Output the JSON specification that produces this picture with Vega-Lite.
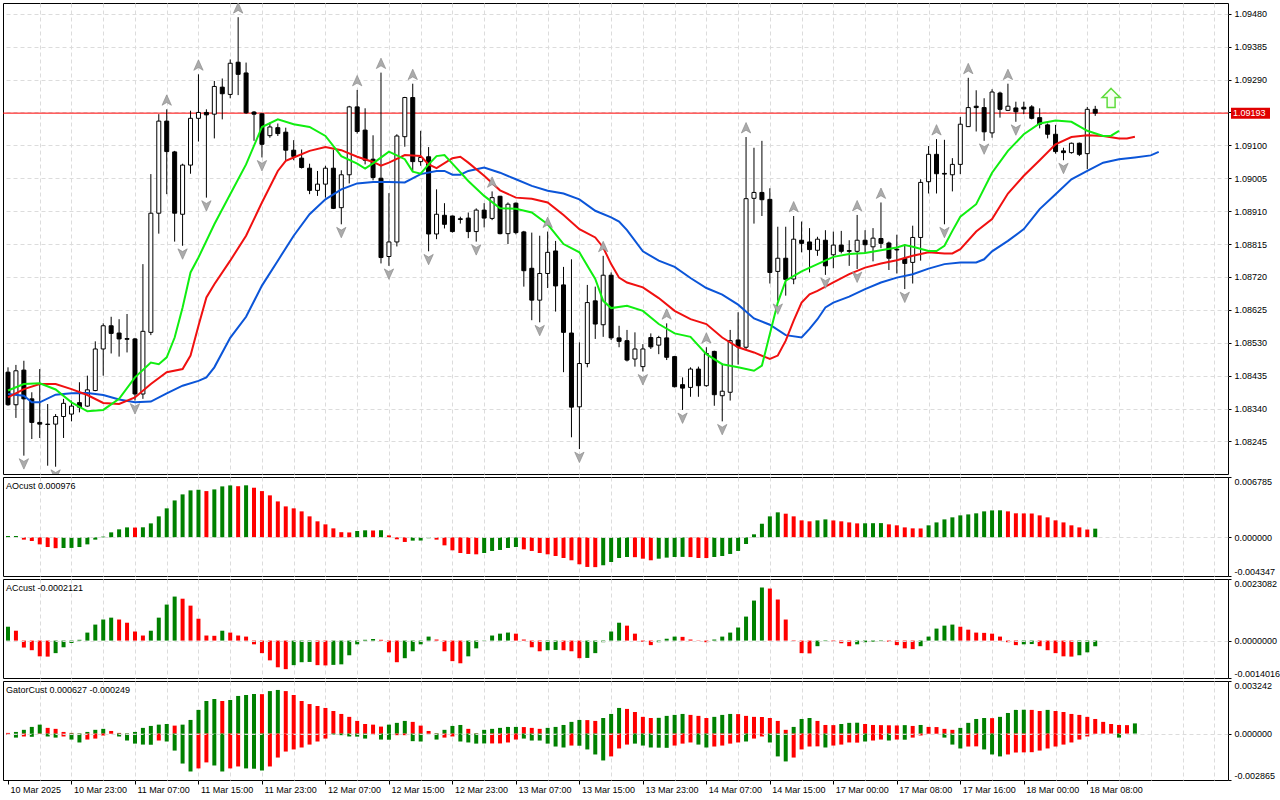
{
  "$schema": "https://vega.github.io/schema/vega-lite/v6.json",
  "padding": {"left": 2, "top": 2, "right": 0, "bottom": 0},
  "background": "white",
  "spacing": 3,
  "bounds": "flush",
  "config": {
    "view": {"stroke": "black", "strokeWidth": 1},
    "axis": {"labelFont": "Liberation Sans", "labelFontSize": 9, "labelColor": "black", "tickColor": "black", "tickSize": 3, "gridColor": "#dcdcdc", "gridDash": [4, 3], "gridWidth": 1, "domain": false, "labelPadding": 3, "labelOverlap": false},
    "text": {"font": "Liberation Sans", "fontSize": 9, "color": "black"},
    "locale": {"number": {"decimal": ".", "thousands": ",", "grouping": [3], "currency": ["$", ""], "minus": "-"}}
  },
  "datasets": {
    "cd": [
      {"i":0,"o":1.08445,"h":1.08459,"l":1.08348,"c":1.08351},
      {"i":1,"o":1.08351,"h":1.08466,"l":1.08313,"c":1.08449},
      {"i":2,"o":1.08451,"h":1.08478,"l":1.08204,"c":1.08368},
      {"i":3,"o":1.08368,"h":1.08387,"l":1.08252,"c":1.08300},
      {"i":4,"o":1.08300,"h":1.08454,"l":1.08255,"c":1.08295},
      {"i":5,"o":1.08295,"h":1.08353,"l":1.08175,"c":1.08294},
      {"i":6,"o":1.08295,"h":1.08324,"l":1.08172,"c":1.08317},
      {"i":7,"o":1.08317,"h":1.08368,"l":1.08255,"c":1.08355},
      {"i":8,"o":1.08324,"h":1.08363,"l":1.08303,"c":1.08347},
      {"i":9,"o":1.08357,"h":1.08416,"l":1.08329,"c":1.08344},
      {"i":10,"o":1.08347,"h":1.08435,"l":1.08345,"c":1.08394},
      {"i":11,"o":1.08392,"h":1.08534,"l":1.08390,"c":1.08512},
      {"i":12,"o":1.08512,"h":1.08586,"l":1.08435,"c":1.08579},
      {"i":13,"o":1.08579,"h":1.08605,"l":1.08499,"c":1.08557},
      {"i":14,"o":1.08558,"h":1.08598,"l":1.08490,"c":1.08541},
      {"i":15,"o":1.08542,"h":1.08613,"l":1.08502,"c":1.08540},
      {"i":16,"o":1.08541,"h":1.08544,"l":1.08363,"c":1.08382},
      {"i":17,"o":1.08382,"h":1.08757,"l":1.08368,"c":1.08563},
      {"i":18,"o":1.08560,"h":1.09017,"l":1.08552,"c":1.08904},
      {"i":19,"o":1.08904,"h":1.09190,"l":1.08845,"c":1.09170},
      {"i":20,"o":1.09170,"h":1.09204,"l":1.08959,"c":1.09082},
      {"i":21,"o":1.09081,"h":1.09084,"l":1.08822,"c":1.08904},
      {"i":22,"o":1.08901,"h":1.09047,"l":1.08810,"c":1.09043},
      {"i":23,"o":1.09043,"h":1.09200,"l":1.09018,"c":1.09178},
      {"i":24,"o":1.09178,"h":1.09305,"l":1.09111,"c":1.09195},
      {"i":25,"o":1.09195,"h":1.09204,"l":1.08949,"c":1.09188},
      {"i":26,"o":1.09190,"h":1.09286,"l":1.09120,"c":1.09270},
      {"i":27,"o":1.09268,"h":1.09293,"l":1.09175,"c":1.09249},
      {"i":28,"o":1.09247,"h":1.09348,"l":1.09236,"c":1.09337},
      {"i":29,"o":1.09340,"h":1.09470,"l":1.09245,"c":1.09305},
      {"i":30,"o":1.09309,"h":1.09339,"l":1.09191,"c":1.09194},
      {"i":31,"o":1.09196,"h":1.09199,"l":1.09113,"c":1.09190},
      {"i":32,"o":1.09191,"h":1.09193,"l":1.09065,"c":1.09103},
      {"i":33,"o":1.09128,"h":1.09166,"l":1.09122,"c":1.09153},
      {"i":34,"o":1.09151,"h":1.09163,"l":1.09127,"c":1.09134},
      {"i":35,"o":1.09138,"h":1.09151,"l":1.09057,"c":1.09086},
      {"i":36,"o":1.09086,"h":1.09115,"l":1.09057,"c":1.09068},
      {"i":37,"o":1.09063,"h":1.09088,"l":1.09033,"c":1.09036},
      {"i":38,"o":1.09034,"h":1.09047,"l":1.08959,"c":1.08970},
      {"i":39,"o":1.08970,"h":1.09026,"l":1.08954,"c":1.08988},
      {"i":40,"o":1.08988,"h":1.09041,"l":1.08949,"c":1.09034},
      {"i":41,"o":1.09034,"h":1.09087,"l":1.08916,"c":1.08918},
      {"i":42,"o":1.08920,"h":1.09028,"l":1.08872,"c":1.09015},
      {"i":43,"o":1.09015,"h":1.09214,"l":1.08990,"c":1.09211},
      {"i":44,"o":1.09211,"h":1.09260,"l":1.09134,"c":1.09140},
      {"i":45,"o":1.09144,"h":1.09207,"l":1.09045,"c":1.09057},
      {"i":46,"o":1.09060,"h":1.09129,"l":1.08999,"c":1.09007},
      {"i":47,"o":1.09005,"h":1.09310,"l":1.08759,"c":1.08776},
      {"i":48,"o":1.08779,"h":1.08962,"l":1.08752,"c":1.08821},
      {"i":49,"o":1.08821,"h":1.09132,"l":1.08808,"c":1.09127},
      {"i":50,"o":1.09125,"h":1.09240,"l":1.09096,"c":1.09238},
      {"i":51,"o":1.09238,"h":1.09278,"l":1.09026,"c":1.09053},
      {"i":52,"o":1.09053,"h":1.09142,"l":1.09041,"c":1.09065},
      {"i":53,"o":1.09067,"h":1.09095,"l":1.08794,"c":1.08844},
      {"i":54,"o":1.08844,"h":1.08973,"l":1.08829,"c":1.08901},
      {"i":55,"o":1.08898,"h":1.08933,"l":1.08860,"c":1.08872},
      {"i":56,"o":1.08896,"h":1.08897,"l":1.08848,"c":1.08851},
      {"i":57,"o":1.08888,"h":1.08894,"l":1.08874,"c":1.08886},
      {"i":58,"o":1.08890,"h":1.08906,"l":1.08832,"c":1.08851},
      {"i":59,"o":1.08851,"h":1.08918,"l":1.08822,"c":1.08913},
      {"i":60,"o":1.08913,"h":1.08933,"l":1.08863,"c":1.08890},
      {"i":61,"o":1.08889,"h":1.08967,"l":1.08884,"c":1.08949},
      {"i":62,"o":1.08953,"h":1.08954,"l":1.08843,"c":1.08845},
      {"i":63,"o":1.08845,"h":1.08935,"l":1.08815,"c":1.08930},
      {"i":64,"o":1.08933,"h":1.08935,"l":1.08843,"c":1.08848},
      {"i":65,"o":1.08850,"h":1.08853,"l":1.08692,"c":1.08738},
      {"i":66,"o":1.08745,"h":1.08848,"l":1.08595,"c":1.08653},
      {"i":67,"o":1.08653,"h":1.08839,"l":1.08589,"c":1.08730},
      {"i":68,"o":1.08730,"h":1.08851,"l":1.08688,"c":1.08791},
      {"i":69,"o":1.08795,"h":1.08824,"l":1.08620,"c":1.08694},
      {"i":70,"o":1.08697,"h":1.08749,"l":1.08445,"c":1.08560},
      {"i":71,"o":1.08558,"h":1.08771,"l":1.08257,"c":1.08344},
      {"i":72,"o":1.08345,"h":1.08531,"l":1.08223,"c":1.08470},
      {"i":73,"o":1.08470,"h":1.08697,"l":1.08459,"c":1.08646},
      {"i":74,"o":1.08651,"h":1.08692,"l":1.08541,"c":1.08584},
      {"i":75,"o":1.08582,"h":1.08781,"l":1.08547,"c":1.08725},
      {"i":76,"o":1.08725,"h":1.08733,"l":1.08538,"c":1.08544},
      {"i":77,"o":1.08544,"h":1.08579,"l":1.08517,"c":1.08534},
      {"i":78,"o":1.08536,"h":1.08567,"l":1.08476,"c":1.08480},
      {"i":79,"o":1.08483,"h":1.08560,"l":1.08461,"c":1.08512},
      {"i":80,"o":1.08461,"h":1.08526,"l":1.08447,"c":1.08512},
      {"i":81,"o":1.08545,"h":1.08557,"l":1.08512,"c":1.08518},
      {"i":82,"o":1.08523,"h":1.08550,"l":1.08497,"c":1.08545},
      {"i":83,"o":1.08544,"h":1.08586,"l":1.08480,"c":1.08488},
      {"i":84,"o":1.08490,"h":1.08492,"l":1.08401,"c":1.08403},
      {"i":85,"o":1.08409,"h":1.08430,"l":1.08336,"c":1.08399},
      {"i":86,"o":1.08401,"h":1.08459,"l":1.08374,"c":1.08454},
      {"i":87,"o":1.08454,"h":1.08461,"l":1.08374,"c":1.08406},
      {"i":88,"o":1.08406,"h":1.08517,"l":1.08403,"c":1.08499},
      {"i":89,"o":1.08505,"h":1.08507,"l":1.08348,"c":1.08380},
      {"i":90,"o":1.08377,"h":1.08470,"l":1.08303,"c":1.08390},
      {"i":91,"o":1.08387,"h":1.08567,"l":1.08363,"c":1.08536},
      {"i":92,"o":1.08538,"h":1.08618,"l":1.08467,"c":1.08518},
      {"i":93,"o":1.08517,"h":1.09124,"l":1.08512,"c":1.08946},
      {"i":94,"o":1.08947,"h":1.09093,"l":1.08874,"c":1.08964},
      {"i":95,"o":1.08964,"h":1.09113,"l":1.08896,"c":1.08943},
      {"i":96,"o":1.08944,"h":1.08976,"l":1.08701,"c":1.08733},
      {"i":97,"o":1.08736,"h":1.08865,"l":1.08651,"c":1.08774},
      {"i":98,"o":1.08774,"h":1.08865,"l":1.08666,"c":1.08713},
      {"i":99,"o":1.08714,"h":1.08896,"l":1.08699,"c":1.08829},
      {"i":100,"o":1.08826,"h":1.08880,"l":1.08791,"c":1.08817},
      {"i":101,"o":1.08821,"h":1.08861,"l":1.08733,"c":1.08799},
      {"i":102,"o":1.08797,"h":1.08836,"l":1.08781,"c":1.08829},
      {"i":103,"o":1.08826,"h":1.08855,"l":1.08726,"c":1.08752},
      {"i":104,"o":1.08784,"h":1.08851,"l":1.08745,"c":1.08812},
      {"i":105,"o":1.08812,"h":1.08853,"l":1.08788,"c":1.08794},
      {"i":106,"o":1.08796,"h":1.08826,"l":1.08752,"c":1.08794},
      {"i":107,"o":1.08794,"h":1.08899,"l":1.08743,"c":1.08826},
      {"i":108,"o":1.08826,"h":1.08855,"l":1.08788,"c":1.08813},
      {"i":109,"o":1.08807,"h":1.08861,"l":1.08765,"c":1.08832},
      {"i":110,"o":1.08831,"h":1.08935,"l":1.08803,"c":1.08817},
      {"i":111,"o":1.08818,"h":1.08822,"l":1.08740,"c":1.08774},
      {"i":112,"o":1.08800,"h":1.08842,"l":1.08730,"c":1.08798},
      {"i":113,"o":1.08774,"h":1.08815,"l":1.08685,"c":1.08759},
      {"i":114,"o":1.08762,"h":1.08868,"l":1.08701,"c":1.08834},
      {"i":115,"o":1.08834,"h":1.09002,"l":1.08767,"c":1.08993},
      {"i":116,"o":1.08995,"h":1.09098,"l":1.08961,"c":1.09074},
      {"i":117,"o":1.09074,"h":1.09118,"l":1.08961,"c":1.09018},
      {"i":118,"o":1.09019,"h":1.09116,"l":1.08872,"c":1.09017},
      {"i":119,"o":1.09015,"h":1.09063,"l":1.08967,"c":1.09045},
      {"i":120,"o":1.09045,"h":1.09182,"l":1.09017,"c":1.09161},
      {"i":121,"o":1.09154,"h":1.09295,"l":1.09153,"c":1.09209},
      {"i":122,"o":1.09213,"h":1.09259,"l":1.09140,"c":1.09209},
      {"i":123,"o":1.09209,"h":1.09236,"l":1.09113,"c":1.09139},
      {"i":124,"o":1.09136,"h":1.09262,"l":1.09122,"c":1.09254},
      {"i":125,"o":1.09251,"h":1.09255,"l":1.09180,"c":1.09204},
      {"i":126,"o":1.09201,"h":1.09278,"l":1.09199,"c":1.09213},
      {"i":127,"o":1.09208,"h":1.09226,"l":1.09168,"c":1.09197},
      {"i":128,"o":1.09210,"h":1.09226,"l":1.09190,"c":1.09205},
      {"i":129,"o":1.09211,"h":1.09216,"l":1.09175,"c":1.09178},
      {"i":130,"o":1.09180,"h":1.09207,"l":1.09149,"c":1.09161},
      {"i":131,"o":1.09159,"h":1.09163,"l":1.09120,"c":1.09132},
      {"i":132,"o":1.09132,"h":1.09159,"l":1.09076,"c":1.09082},
      {"i":133,"o":1.09084,"h":1.09093,"l":1.09057,"c":1.09079},
      {"i":134,"o":1.09079,"h":1.09108,"l":1.09076,"c":1.09106},
      {"i":135,"o":1.09106,"h":1.09108,"l":1.09069,"c":1.09074},
      {"i":136,"o":1.09076,"h":1.09211,"l":1.09031,"c":1.09204},
      {"i":137,"o":1.09204,"h":1.09214,"l":1.09185,"c":1.09193}
    ],
    "al": [
      {"i":0,"v":1.08382,"s":"jaw"},{"i":2,"v":1.08377,"s":"jaw"},{"i":3,"v":1.08358,"s":"jaw"},{"i":4,"v":1.08358,"s":"jaw"},{"i":6,"v":1.08380,"s":"jaw"},{"i":8,"v":1.08384,"s":"jaw"},{"i":10,"v":1.08385,"s":"jaw"},{"i":12,"v":1.08379,"s":"jaw"},{"i":14,"v":1.08366,"s":"jaw"},{"i":16,"v":1.08358,"s":"jaw"},{"i":18,"v":1.08360,"s":"jaw"},{"i":20,"v":1.08384,"s":"jaw"},{"i":22,"v":1.08406,"s":"jaw"},{"i":24,"v":1.08420,"s":"jaw"},{"i":25,"v":1.08430,"s":"jaw"},{"i":26,"v":1.08459,"s":"jaw"},{"i":28,"v":1.08544,"s":"jaw"},{"i":30,"v":1.08605,"s":"jaw"},{"i":32,"v":1.08695,"s":"jaw"},{"i":34,"v":1.08767,"s":"jaw"},{"i":36,"v":1.08839,"s":"jaw"},{"i":38,"v":1.08901,"s":"jaw"},{"i":40,"v":1.08944,"s":"jaw"},{"i":42,"v":1.08973,"s":"jaw"},{"i":44,"v":1.08990,"s":"jaw"},{"i":46,"v":1.08994,"s":"jaw"},{"i":48,"v":1.08994,"s":"jaw"},{"i":50,"v":1.08993,"s":"jaw"},{"i":52,"v":1.09017,"s":"jaw"},{"i":54,"v":1.09026,"s":"jaw"},{"i":55,"v":1.09026,"s":"jaw"},{"i":56,"v":1.09015,"s":"jaw"},{"i":57,"v":1.09015,"s":"jaw"},{"i":58,"v":1.09026,"s":"jaw"},{"i":60,"v":1.09036,"s":"jaw"},{"i":62,"v":1.09021,"s":"jaw"},{"i":64,"v":1.09002,"s":"jaw"},{"i":66,"v":1.08983,"s":"jaw"},{"i":68,"v":1.08969,"s":"jaw"},{"i":70,"v":1.08961,"s":"jaw"},{"i":72,"v":1.08944,"s":"jaw"},{"i":74,"v":1.08911,"s":"jaw"},{"i":76,"v":1.08892,"s":"jaw"},{"i":77,"v":1.08880,"s":"jaw"},{"i":78,"v":1.08855,"s":"jaw"},{"i":80,"v":1.08794,"s":"jaw"},{"i":82,"v":1.08767,"s":"jaw"},{"i":84,"v":1.08749,"s":"jaw"},{"i":86,"v":1.08717,"s":"jaw"},{"i":88,"v":1.08688,"s":"jaw"},{"i":90,"v":1.08669,"s":"jaw"},{"i":92,"v":1.08640,"s":"jaw"},{"i":94,"v":1.08600,"s":"jaw"},{"i":96,"v":1.08582,"s":"jaw"},{"i":98,"v":1.08552,"s":"jaw"},{"i":100,"v":1.08545,"s":"jaw"},{"i":101,"v":1.08570,"s":"jaw"},{"i":102,"v":1.08598,"s":"jaw"},{"i":103,"v":1.08632,"s":"jaw"},{"i":104,"v":1.08646,"s":"jaw"},{"i":106,"v":1.08663,"s":"jaw"},{"i":108,"v":1.08685,"s":"jaw"},{"i":110,"v":1.08704,"s":"jaw"},{"i":112,"v":1.08718,"s":"jaw"},{"i":114,"v":1.08728,"s":"jaw"},{"i":116,"v":1.08744,"s":"jaw"},{"i":118,"v":1.08757,"s":"jaw"},{"i":120,"v":1.08762,"s":"jaw"},{"i":122,"v":1.08762,"s":"jaw"},{"i":123,"v":1.08771,"s":"jaw"},{"i":124,"v":1.08794,"s":"jaw"},{"i":126,"v":1.08824,"s":"jaw"},{"i":128,"v":1.08858,"s":"jaw"},{"i":130,"v":1.08916,"s":"jaw"},{"i":132,"v":1.08959,"s":"jaw"},{"i":134,"v":1.09002,"s":"jaw"},{"i":136,"v":1.09026,"s":"jaw"},{"i":138,"v":1.09050,"s":"jaw"},{"i":140,"v":1.09060,"s":"jaw"},{"i":142,"v":1.09065,"s":"jaw"},{"i":144,"v":1.09071,"s":"jaw"},{"i":145,"v":1.09081,"s":"jaw"},
      {"i":0,"v":1.08372,"s":"teeth"},{"i":2,"v":1.08396,"s":"teeth"},{"i":4,"v":1.08411,"s":"teeth"},{"i":6,"v":1.08411,"s":"teeth"},{"i":8,"v":1.08396,"s":"teeth"},{"i":10,"v":1.08379,"s":"teeth"},{"i":12,"v":1.08356,"s":"teeth"},{"i":14,"v":1.08353,"s":"teeth"},{"i":16,"v":1.08372,"s":"teeth"},{"i":18,"v":1.08411,"s":"teeth"},{"i":20,"v":1.08445,"s":"teeth"},{"i":22,"v":1.08454,"s":"teeth"},{"i":23,"v":1.08493,"s":"teeth"},{"i":24,"v":1.08579,"s":"teeth"},{"i":25,"v":1.08661,"s":"teeth"},{"i":26,"v":1.08699,"s":"teeth"},{"i":28,"v":1.08767,"s":"teeth"},{"i":30,"v":1.08839,"s":"teeth"},{"i":32,"v":1.08935,"s":"teeth"},{"i":34,"v":1.09026,"s":"teeth"},{"i":35,"v":1.09055,"s":"teeth"},{"i":36,"v":1.09065,"s":"teeth"},{"i":38,"v":1.09084,"s":"teeth"},{"i":40,"v":1.09095,"s":"teeth"},{"i":42,"v":1.09086,"s":"teeth"},{"i":44,"v":1.09067,"s":"teeth"},{"i":46,"v":1.09052,"s":"teeth"},{"i":47,"v":1.09041,"s":"teeth"},{"i":48,"v":1.09050,"s":"teeth"},{"i":50,"v":1.09072,"s":"teeth"},{"i":52,"v":1.09069,"s":"teeth"},{"i":53,"v":1.09045,"s":"teeth"},{"i":54,"v":1.09034,"s":"teeth"},{"i":56,"v":1.09063,"s":"teeth"},{"i":57,"v":1.09067,"s":"teeth"},{"i":58,"v":1.09050,"s":"teeth"},{"i":60,"v":1.09012,"s":"teeth"},{"i":62,"v":1.08970,"s":"teeth"},{"i":64,"v":1.08949,"s":"teeth"},{"i":66,"v":1.08946,"s":"teeth"},{"i":68,"v":1.08935,"s":"teeth"},{"i":70,"v":1.08899,"s":"teeth"},{"i":72,"v":1.08858,"s":"teeth"},{"i":74,"v":1.08834,"s":"teeth"},{"i":75,"v":1.08805,"s":"teeth"},{"i":76,"v":1.08757,"s":"teeth"},{"i":77,"v":1.08718,"s":"teeth"},{"i":78,"v":1.08704,"s":"teeth"},{"i":80,"v":1.08690,"s":"teeth"},{"i":82,"v":1.08659,"s":"teeth"},{"i":84,"v":1.08622,"s":"teeth"},{"i":86,"v":1.08598,"s":"teeth"},{"i":88,"v":1.08584,"s":"teeth"},{"i":90,"v":1.08545,"s":"teeth"},{"i":92,"v":1.08517,"s":"teeth"},{"i":94,"v":1.08502,"s":"teeth"},{"i":96,"v":1.08483,"s":"teeth"},{"i":97,"v":1.08493,"s":"teeth"},{"i":98,"v":1.08536,"s":"teeth"},{"i":99,"v":1.08594,"s":"teeth"},{"i":100,"v":1.08646,"s":"teeth"},{"i":101,"v":1.08670,"s":"teeth"},{"i":102,"v":1.08680,"s":"teeth"},{"i":104,"v":1.08704,"s":"teeth"},{"i":106,"v":1.08728,"s":"teeth"},{"i":108,"v":1.08747,"s":"teeth"},{"i":110,"v":1.08759,"s":"teeth"},{"i":112,"v":1.08768,"s":"teeth"},{"i":114,"v":1.08781,"s":"teeth"},{"i":116,"v":1.08791,"s":"teeth"},{"i":118,"v":1.08788,"s":"teeth"},{"i":119,"v":1.08788,"s":"teeth"},{"i":120,"v":1.08800,"s":"teeth"},{"i":122,"v":1.08851,"s":"teeth"},{"i":124,"v":1.08887,"s":"teeth"},{"i":126,"v":1.08961,"s":"teeth"},{"i":128,"v":1.09012,"s":"teeth"},{"i":130,"v":1.09057,"s":"teeth"},{"i":132,"v":1.09103,"s":"teeth"},{"i":134,"v":1.09124,"s":"teeth"},{"i":136,"v":1.09129,"s":"teeth"},{"i":138,"v":1.09127,"s":"teeth"},{"i":140,"v":1.09120,"s":"teeth"},{"i":141,"v":1.09120,"s":"teeth"},{"i":142,"v":1.09125,"s":"teeth"},
      {"i":0,"v":1.08392,"s":"lips"},{"i":2,"v":1.08411,"s":"lips"},{"i":4,"v":1.08413,"s":"lips"},{"i":6,"v":1.08395,"s":"lips"},{"i":8,"v":1.08358,"s":"lips"},{"i":10,"v":1.08332,"s":"lips"},{"i":12,"v":1.08336,"s":"lips"},{"i":14,"v":1.08368,"s":"lips"},{"i":16,"v":1.08430,"s":"lips"},{"i":18,"v":1.08473,"s":"lips"},{"i":19,"v":1.08468,"s":"lips"},{"i":20,"v":1.08488,"s":"lips"},{"i":21,"v":1.08545,"s":"lips"},{"i":22,"v":1.08632,"s":"lips"},{"i":23,"v":1.08733,"s":"lips"},{"i":24,"v":1.08776,"s":"lips"},{"i":26,"v":1.08872,"s":"lips"},{"i":28,"v":1.08959,"s":"lips"},{"i":30,"v":1.09045,"s":"lips"},{"i":32,"v":1.09153,"s":"lips"},{"i":34,"v":1.09175,"s":"lips"},{"i":36,"v":1.09161,"s":"lips"},{"i":38,"v":1.09153,"s":"lips"},{"i":40,"v":1.09127,"s":"lips"},{"i":42,"v":1.09069,"s":"lips"},{"i":44,"v":1.09047,"s":"lips"},{"i":45,"v":1.09033,"s":"lips"},{"i":46,"v":1.09048,"s":"lips"},{"i":48,"v":1.09082,"s":"lips"},{"i":50,"v":1.09060,"s":"lips"},{"i":51,"v":1.09024,"s":"lips"},{"i":52,"v":1.09018,"s":"lips"},{"i":53,"v":1.09045,"s":"lips"},{"i":54,"v":1.09069,"s":"lips"},{"i":55,"v":1.09072,"s":"lips"},{"i":56,"v":1.09047,"s":"lips"},{"i":58,"v":1.08997,"s":"lips"},{"i":60,"v":1.08954,"s":"lips"},{"i":62,"v":1.08918,"s":"lips"},{"i":64,"v":1.08917,"s":"lips"},{"i":66,"v":1.08906,"s":"lips"},{"i":68,"v":1.08872,"s":"lips"},{"i":70,"v":1.08815,"s":"lips"},{"i":72,"v":1.08791,"s":"lips"},{"i":74,"v":1.08714,"s":"lips"},{"i":75,"v":1.08651,"s":"lips"},{"i":76,"v":1.08630,"s":"lips"},{"i":78,"v":1.08637,"s":"lips"},{"i":80,"v":1.08622,"s":"lips"},{"i":82,"v":1.08584,"s":"lips"},{"i":84,"v":1.08557,"s":"lips"},{"i":86,"v":1.08547,"s":"lips"},{"i":88,"v":1.08497,"s":"lips"},{"i":90,"v":1.08468,"s":"lips"},{"i":92,"v":1.08459,"s":"lips"},{"i":94,"v":1.08449,"s":"lips"},{"i":95,"v":1.08464,"s":"lips"},{"i":96,"v":1.08555,"s":"lips"},{"i":97,"v":1.08646,"s":"lips"},{"i":98,"v":1.08709,"s":"lips"},{"i":100,"v":1.08736,"s":"lips"},{"i":102,"v":1.08757,"s":"lips"},{"i":104,"v":1.08778,"s":"lips"},{"i":106,"v":1.08786,"s":"lips"},{"i":108,"v":1.08789,"s":"lips"},{"i":110,"v":1.08797,"s":"lips"},{"i":112,"v":1.08805,"s":"lips"},{"i":113,"v":1.08812,"s":"lips"},{"i":114,"v":1.08807,"s":"lips"},{"i":116,"v":1.08795,"s":"lips"},{"i":117,"v":1.08795,"s":"lips"},{"i":118,"v":1.08810,"s":"lips"},{"i":119,"v":1.08853,"s":"lips"},{"i":120,"v":1.08894,"s":"lips"},{"i":122,"v":1.08930,"s":"lips"},{"i":124,"v":1.09021,"s":"lips"},{"i":126,"v":1.09084,"s":"lips"},{"i":128,"v":1.09132,"s":"lips"},{"i":130,"v":1.09163,"s":"lips"},{"i":132,"v":1.09172,"s":"lips"},{"i":134,"v":1.09168,"s":"lips"},{"i":136,"v":1.09142,"s":"lips"},{"i":138,"v":1.09127,"s":"lips"},{"i":139,"v":1.09128,"s":"lips"},{"i":140,"v":1.09142,"s":"lips"}
    ],
    "fr": [
      {"i":20,"p":1.09204,"d":"u"},{"i":24,"p":1.09305,"d":"u"},{"i":29,"p":1.09470,"d":"u"},{"i":44,"p":1.09260,"d":"u"},{"i":47,"p":1.09310,"d":"u"},{"i":51,"p":1.09278,"d":"u"},{"i":61,"p":1.08967,"d":"u"},{"i":68,"p":1.08851,"d":"u"},{"i":75,"p":1.08781,"d":"u"},{"i":83,"p":1.08586,"d":"u"},{"i":88,"p":1.08517,"d":"u"},{"i":93,"p":1.09124,"d":"u"},{"i":99,"p":1.08896,"d":"u"},{"i":107,"p":1.08899,"d":"u"},{"i":110,"p":1.08935,"d":"u"},{"i":117,"p":1.09118,"d":"u"},{"i":121,"p":1.09295,"d":"u"},{"i":126,"p":1.09278,"d":"u"},
      {"i":2,"p":1.08204,"d":"d"},{"i":6,"p":1.08172,"d":"d"},{"i":16,"p":1.08363,"d":"d"},{"i":22,"p":1.08810,"d":"d"},{"i":25,"p":1.08949,"d":"d"},{"i":32,"p":1.09065,"d":"d"},{"i":42,"p":1.08872,"d":"d"},{"i":48,"p":1.08752,"d":"d"},{"i":53,"p":1.08794,"d":"d"},{"i":59,"p":1.08822,"d":"d"},{"i":67,"p":1.08589,"d":"d"},{"i":72,"p":1.08223,"d":"d"},{"i":80,"p":1.08447,"d":"d"},{"i":85,"p":1.08336,"d":"d"},{"i":90,"p":1.08303,"d":"d"},{"i":97,"p":1.08651,"d":"d"},{"i":103,"p":1.08726,"d":"d"},{"i":107,"p":1.08743,"d":"d"},{"i":113,"p":1.08685,"d":"d"},{"i":118,"p":1.08872,"d":"d"},{"i":123,"p":1.09113,"d":"d"},{"i":127,"p":1.09168,"d":"d"},{"i":133,"p":1.09057,"d":"d"}
    ],
    "ao": [
      {"i":0,"v":0.00015,"c":"g"},{"i":1,"v":0.00015,"c":"g"},{"i":2,"v":-0.00026,"c":"r"},{"i":3,"v":-0.00041,"c":"r"},{"i":4,"v":-0.00079,"c":"r"},{"i":5,"v":-0.00109,"c":"r"},{"i":6,"v":-0.00122,"c":"r"},{"i":7,"v":-0.00120,"c":"g"},{"i":8,"v":-0.00119,"c":"g"},{"i":9,"v":-0.00109,"c":"g"},{"i":10,"v":-0.00079,"c":"g"},{"i":11,"v":-0.00026,"c":"g"},{"i":12,"v":0.00008,"c":"g"},{"i":13,"v":0.00056,"c":"g"},{"i":14,"v":0.00090,"c":"g"},{"i":15,"v":0.00112,"c":"g"},{"i":16,"v":0.00110,"c":"r"},{"i":17,"v":0.00113,"c":"g"},{"i":18,"v":0.00157,"c":"g"},{"i":19,"v":0.00236,"c":"g"},{"i":20,"v":0.00326,"c":"g"},{"i":21,"v":0.00415,"c":"g"},{"i":22,"v":0.00483,"c":"g"},{"i":23,"v":0.00528,"c":"g"},{"i":24,"v":0.00535,"c":"g"},{"i":25,"v":0.00520,"c":"r"},{"i":26,"v":0.00539,"c":"g"},{"i":27,"v":0.00573,"c":"g"},{"i":28,"v":0.00584,"c":"g"},{"i":29,"v":0.00575,"c":"r"},{"i":30,"v":0.00585,"c":"g"},{"i":31,"v":0.00558,"c":"r"},{"i":32,"v":0.00520,"c":"r"},{"i":33,"v":0.00472,"c":"r"},{"i":34,"v":0.00404,"c":"r"},{"i":35,"v":0.00348,"c":"r"},{"i":36,"v":0.00326,"c":"r"},{"i":37,"v":0.00292,"c":"r"},{"i":38,"v":0.00236,"c":"r"},{"i":39,"v":0.00180,"c":"r"},{"i":40,"v":0.00146,"c":"r"},{"i":41,"v":0.00101,"c":"r"},{"i":42,"v":0.00058,"c":"r"},{"i":43,"v":0.00055,"c":"r"},{"i":44,"v":0.00071,"c":"g"},{"i":45,"v":0.00079,"c":"g"},{"i":46,"v":0.00077,"c":"r"},{"i":47,"v":0.00080,"c":"g"},{"i":48,"v":0.00022,"c":"r"},{"i":49,"v":-0.00022,"c":"r"},{"i":50,"v":-0.00052,"c":"r"},{"i":51,"v":-0.00037,"c":"g"},{"i":52,"v":-0.00036,"c":"g"},{"i":53,"v":-0.00010,"c":"g"},{"i":54,"v":-0.00026,"c":"r"},{"i":55,"v":-0.00090,"c":"r"},{"i":56,"v":-0.00146,"c":"r"},{"i":57,"v":-0.00176,"c":"r"},{"i":58,"v":-0.00187,"c":"r"},{"i":59,"v":-0.00191,"c":"r"},{"i":60,"v":-0.00176,"c":"g"},{"i":61,"v":-0.00153,"c":"g"},{"i":62,"v":-0.00142,"c":"g"},{"i":63,"v":-0.00120,"c":"g"},{"i":64,"v":-0.00109,"c":"g"},{"i":65,"v":-0.00135,"c":"r"},{"i":66,"v":-0.00153,"c":"r"},{"i":67,"v":-0.00176,"c":"r"},{"i":68,"v":-0.00191,"c":"r"},{"i":69,"v":-0.00210,"c":"r"},{"i":70,"v":-0.00232,"c":"r"},{"i":71,"v":-0.00258,"c":"r"},{"i":72,"v":-0.00303,"c":"r"},{"i":73,"v":-0.00333,"c":"r"},{"i":74,"v":-0.00335,"c":"r"},{"i":75,"v":-0.00314,"c":"g"},{"i":76,"v":-0.00277,"c":"g"},{"i":77,"v":-0.00232,"c":"g"},{"i":78,"v":-0.00221,"c":"g"},{"i":79,"v":-0.00223,"c":"r"},{"i":80,"v":-0.00240,"c":"r"},{"i":81,"v":-0.00258,"c":"r"},{"i":82,"v":-0.00240,"c":"g"},{"i":83,"v":-0.00228,"c":"g"},{"i":84,"v":-0.00221,"c":"g"},{"i":85,"v":-0.00220,"c":"g"},{"i":86,"v":-0.00222,"c":"r"},{"i":87,"v":-0.00232,"c":"r"},{"i":88,"v":-0.00233,"c":"r"},{"i":89,"v":-0.00221,"c":"g"},{"i":90,"v":-0.00210,"c":"g"},{"i":91,"v":-0.00187,"c":"g"},{"i":92,"v":-0.00153,"c":"g"},{"i":93,"v":-0.00075,"c":"g"},{"i":94,"v":0.00034,"c":"g"},{"i":95,"v":0.00153,"c":"g"},{"i":96,"v":0.00236,"c":"g"},{"i":97,"v":0.00281,"c":"g"},{"i":98,"v":0.00266,"c":"r"},{"i":99,"v":0.00236,"c":"r"},{"i":100,"v":0.00191,"c":"r"},{"i":101,"v":0.00180,"c":"r"},{"i":102,"v":0.00191,"c":"g"},{"i":103,"v":0.00202,"c":"g"},{"i":104,"v":0.00190,"c":"r"},{"i":105,"v":0.00180,"c":"r"},{"i":106,"v":0.00168,"c":"r"},{"i":107,"v":0.00157,"c":"r"},{"i":108,"v":0.00158,"c":"g"},{"i":109,"v":0.00159,"c":"g"},{"i":110,"v":0.00160,"c":"g"},{"i":111,"v":0.00146,"c":"r"},{"i":112,"v":0.00135,"c":"r"},{"i":113,"v":0.00112,"c":"r"},{"i":114,"v":0.00101,"c":"r"},{"i":115,"v":0.00100,"c":"r"},{"i":116,"v":0.00135,"c":"g"},{"i":117,"v":0.00168,"c":"g"},{"i":118,"v":0.00202,"c":"g"},{"i":119,"v":0.00225,"c":"g"},{"i":120,"v":0.00247,"c":"g"},{"i":121,"v":0.00258,"c":"g"},{"i":122,"v":0.00270,"c":"g"},{"i":123,"v":0.00292,"c":"g"},{"i":124,"v":0.00303,"c":"g"},{"i":125,"v":0.00304,"c":"g"},{"i":126,"v":0.00292,"c":"r"},{"i":127,"v":0.00270,"c":"r"},{"i":128,"v":0.00269,"c":"r"},{"i":129,"v":0.00268,"c":"r"},{"i":130,"v":0.00247,"c":"r"},{"i":131,"v":0.00225,"c":"r"},{"i":132,"v":0.00191,"c":"r"},{"i":133,"v":0.00168,"c":"r"},{"i":134,"v":0.00135,"c":"r"},{"i":135,"v":0.00112,"c":"r"},{"i":136,"v":0.00088,"c":"r"},{"i":137,"v":0.000976,"c":"g"}
    ],
    "ac": [
      {"i":0,"v":0.00052,"c":"g"},{"i":1,"v":0.00037,"c":"r"},{"i":2,"v":-0.00026,"c":"r"},{"i":3,"v":-0.00036,"c":"r"},{"i":4,"v":-0.00059,"c":"r"},{"i":5,"v":-0.00060,"c":"r"},{"i":6,"v":-0.00047,"c":"g"},{"i":7,"v":-0.00025,"c":"g"},{"i":8,"v":-0.00009,"c":"g"},{"i":9,"v":0.00003,"c":"g"},{"i":10,"v":0.00030,"c":"g"},{"i":11,"v":0.00060,"c":"g"},{"i":12,"v":0.00079,"c":"g"},{"i":13,"v":0.00086,"c":"g"},{"i":14,"v":0.00079,"c":"r"},{"i":15,"v":0.00067,"c":"r"},{"i":16,"v":0.00034,"c":"r"},{"i":17,"v":0.00019,"c":"r"},{"i":18,"v":0.00037,"c":"g"},{"i":19,"v":0.00086,"c":"g"},{"i":20,"v":0.00135,"c":"g"},{"i":21,"v":0.00165,"c":"g"},{"i":22,"v":0.00157,"c":"r"},{"i":23,"v":0.00131,"c":"r"},{"i":24,"v":0.00082,"c":"r"},{"i":25,"v":0.00019,"c":"r"},{"i":26,"v":0.00018,"c":"r"},{"i":27,"v":0.00037,"c":"g"},{"i":28,"v":0.00030,"c":"r"},{"i":29,"v":0.00019,"c":"r"},{"i":30,"v":0.00015,"c":"r"},{"i":31,"v":-0.00014,"c":"r"},{"i":32,"v":-0.00047,"c":"r"},{"i":33,"v":-0.00074,"c":"r"},{"i":34,"v":-0.00100,"c":"r"},{"i":35,"v":-0.00107,"c":"r"},{"i":36,"v":-0.00092,"c":"g"},{"i":37,"v":-0.00081,"c":"g"},{"i":38,"v":-0.00080,"c":"g"},{"i":39,"v":-0.00092,"c":"r"},{"i":40,"v":-0.00093,"c":"r"},{"i":41,"v":-0.00091,"c":"g"},{"i":42,"v":-0.00089,"c":"g"},{"i":43,"v":-0.00055,"c":"g"},{"i":44,"v":-0.00014,"c":"g"},{"i":45,"v":0.00003,"c":"g"},{"i":46,"v":0.00006,"c":"g"},{"i":47,"v":0.00003,"c":"r"},{"i":48,"v":-0.00044,"c":"r"},{"i":49,"v":-0.00081,"c":"r"},{"i":50,"v":-0.00066,"c":"g"},{"i":51,"v":-0.00040,"c":"g"},{"i":52,"v":-0.00014,"c":"g"},{"i":53,"v":0.00015,"c":"g"},{"i":54,"v":0.00004,"c":"r"},{"i":55,"v":-0.00040,"c":"r"},{"i":56,"v":-0.00077,"c":"r"},{"i":57,"v":-0.00085,"c":"r"},{"i":58,"v":-0.00059,"c":"g"},{"i":59,"v":-0.00029,"c":"g"},{"i":60,"v":-0.00001,"c":"g"},{"i":61,"v":0.00019,"c":"g"},{"i":62,"v":0.00026,"c":"g"},{"i":63,"v":0.00030,"c":"g"},{"i":64,"v":0.00026,"c":"r"},{"i":65,"v":0.00004,"c":"r"},{"i":66,"v":-0.00025,"c":"r"},{"i":67,"v":-0.00040,"c":"r"},{"i":68,"v":-0.00036,"c":"g"},{"i":69,"v":-0.00035,"c":"g"},{"i":70,"v":-0.00036,"c":"r"},{"i":71,"v":-0.00040,"c":"r"},{"i":72,"v":-0.00066,"c":"r"},{"i":73,"v":-0.00065,"c":"g"},{"i":74,"v":-0.00047,"c":"g"},{"i":75,"v":-0.00006,"c":"g"},{"i":76,"v":0.00034,"c":"g"},{"i":77,"v":0.00067,"c":"g"},{"i":78,"v":0.00056,"c":"r"},{"i":79,"v":0.00026,"c":"r"},{"i":80,"v":-0.00004,"c":"r"},{"i":81,"v":-0.00017,"c":"r"},{"i":82,"v":-0.00006,"c":"g"},{"i":83,"v":0.00007,"c":"g"},{"i":84,"v":0.00015,"c":"g"},{"i":85,"v":0.00014,"c":"r"},{"i":86,"v":0.00004,"c":"r"},{"i":87,"v":-0.00001,"c":"r"},{"i":88,"v":-0.00006,"c":"r"},{"i":89,"v":0.00004,"c":"g"},{"i":90,"v":0.00015,"c":"g"},{"i":91,"v":0.00030,"c":"g"},{"i":92,"v":0.00049,"c":"g"},{"i":93,"v":0.00090,"c":"g"},{"i":94,"v":0.00150,"c":"g"},{"i":95,"v":0.00199,"c":"g"},{"i":96,"v":0.00195,"c":"r"},{"i":97,"v":0.00154,"c":"r"},{"i":98,"v":0.00079,"c":"r"},{"i":99,"v":-0.00002,"c":"r"},{"i":100,"v":-0.00047,"c":"r"},{"i":101,"v":-0.00048,"c":"r"},{"i":102,"v":-0.00021,"c":"g"},{"i":103,"v":-0.00002,"c":"g"},{"i":104,"v":-0.00003,"c":"r"},{"i":105,"v":-0.00010,"c":"r"},{"i":106,"v":-0.00021,"c":"r"},{"i":107,"v":-0.00014,"c":"g"},{"i":108,"v":-0.00006,"c":"g"},{"i":109,"v":-0.00004,"c":"g"},{"i":110,"v":-0.00002,"c":"g"},{"i":111,"v":-0.00004,"c":"r"},{"i":112,"v":-0.00017,"c":"r"},{"i":113,"v":-0.00029,"c":"r"},{"i":114,"v":-0.00032,"c":"r"},{"i":115,"v":-0.00021,"c":"g"},{"i":116,"v":0.00015,"c":"g"},{"i":117,"v":0.00045,"c":"g"},{"i":118,"v":0.00056,"c":"g"},{"i":119,"v":0.00060,"c":"g"},{"i":120,"v":0.00052,"c":"r"},{"i":121,"v":0.00041,"c":"r"},{"i":122,"v":0.00030,"c":"r"},{"i":123,"v":0.00029,"c":"r"},{"i":124,"v":0.00026,"c":"r"},{"i":125,"v":0.00015,"c":"r"},{"i":126,"v":-0.00006,"c":"r"},{"i":127,"v":-0.00017,"c":"r"},{"i":128,"v":-0.00014,"c":"g"},{"i":129,"v":-0.00013,"c":"g"},{"i":130,"v":-0.00021,"c":"r"},{"i":131,"v":-0.00036,"c":"r"},{"i":132,"v":-0.00047,"c":"r"},{"i":133,"v":-0.00059,"c":"r"},{"i":134,"v":-0.00060,"c":"r"},{"i":135,"v":-0.00055,"c":"g"},{"i":136,"v":-0.00044,"c":"g"},{"i":137,"v":-0.0002121,"c":"g"}
    ],
    "gt": [
      {"i":0,"u":0.00004,"uc":"r","d":-0.00008,"dc":"r"},{"i":1,"u":0.00010,"uc":"g","d":-0.00025,"dc":"g"},{"i":2,"u":0.00023,"uc":"g","d":-0.00018,"dc":"r"},{"i":3,"u":0.00041,"uc":"g","d":-0.00020,"dc":"g"},{"i":4,"u":0.00055,"uc":"g","d":-0.00002,"dc":"r"},{"i":5,"u":0.00035,"uc":"r","d":-0.00018,"dc":"g"},{"i":6,"u":0.00029,"uc":"r","d":-0.00025,"dc":"g"},{"i":7,"u":0.00010,"uc":"r","d":-0.00018,"dc":"r"},{"i":8,"u":0.00004,"uc":"r","d":-0.00037,"dc":"g"},{"i":9,"u":0.00001,"uc":"r","d":-0.00055,"dc":"g"},
      {"i":10,"u":0.00010,"uc":"g","d":-0.00037,"dc":"r"},{"i":11,"u":0.00023,"uc":"g","d":-0.00031,"dc":"r"},{"i":12,"u":0.00029,"uc":"g","d":-0.00012,"dc":"r"},{"i":13,"u":0.00016,"uc":"r","d":-0.00002,"dc":"r"},{"i":14,"u":0.00004,"uc":"r","d":-0.00018,"dc":"g"},{"i":15,"u":0.00001,"uc":"r","d":-0.00043,"dc":"g"},{"i":16,"u":0.00010,"uc":"g","d":-0.00062,"dc":"g"},{"i":17,"u":0.00035,"uc":"g","d":-0.00068,"dc":"g"},{"i":18,"u":0.00047,"uc":"g","d":-0.00069,"dc":"g"},{"i":19,"u":0.00055,"uc":"g","d":-0.00043,"dc":"r"},
      {"i":20,"u":0.00059,"uc":"g","d":-0.00049,"dc":"g"},{"i":21,"u":0.00049,"uc":"r","d":-0.00105,"dc":"g"},{"i":22,"u":0.00055,"uc":"g","d":-0.00185,"dc":"g"},{"i":23,"u":0.00084,"uc":"g","d":-0.00234,"dc":"g"},{"i":24,"u":0.00146,"uc":"g","d":-0.00215,"dc":"r"},{"i":25,"u":0.00201,"uc":"g","d":-0.00178,"dc":"r"},{"i":26,"u":0.00213,"uc":"g","d":-0.00197,"dc":"g"},{"i":27,"u":0.00201,"uc":"r","d":-0.00234,"dc":"g"},{"i":28,"u":0.00207,"uc":"g","d":-0.00215,"dc":"r"},{"i":29,"u":0.00232,"uc":"g","d":-0.00203,"dc":"r"},
      {"i":30,"u":0.00238,"uc":"g","d":-0.00215,"dc":"g"},{"i":31,"u":0.00244,"uc":"g","d":-0.00217,"dc":"g"},{"i":32,"u":0.00243,"uc":"r","d":-0.00228,"dc":"g"},{"i":33,"u":0.00262,"uc":"g","d":-0.00203,"dc":"r"},{"i":34,"u":0.00269,"uc":"g","d":-0.00148,"dc":"r"},{"i":35,"u":0.00262,"uc":"r","d":-0.00111,"dc":"r"},{"i":36,"u":0.00238,"uc":"r","d":-0.00098,"dc":"r"},{"i":37,"u":0.00201,"uc":"r","d":-0.00086,"dc":"r"},{"i":38,"u":0.00182,"uc":"r","d":-0.00068,"dc":"r"},{"i":39,"u":0.00170,"uc":"r","d":-0.00049,"dc":"r"},
      {"i":40,"u":0.00158,"uc":"r","d":-0.00031,"dc":"r"},{"i":41,"u":0.00139,"uc":"r","d":-0.00006,"dc":"g"},{"i":42,"u":0.00121,"uc":"r","d":-0.00010,"dc":"g"},{"i":43,"u":0.00103,"uc":"r","d":-0.00018,"dc":"g"},{"i":44,"u":0.00078,"uc":"r","d":-0.00019,"dc":"g"},{"i":45,"u":0.00059,"uc":"r","d":-0.00031,"dc":"g"},{"i":46,"u":0.00055,"uc":"r","d":-0.00006,"dc":"r"},{"i":47,"u":0.00043,"uc":"r","d":-0.00037,"dc":"g"},{"i":48,"u":0.00055,"uc":"g","d":-0.00038,"dc":"g"},{"i":49,"u":0.00066,"uc":"g","d":-0.00010,"dc":"r"},
      {"i":50,"u":0.00078,"uc":"g","d":-0.00010,"dc":"r"},{"i":51,"u":0.00072,"uc":"r","d":-0.00047,"dc":"g"},{"i":52,"u":0.00049,"uc":"r","d":-0.00049,"dc":"g"},{"i":53,"u":0.00016,"uc":"r","d":-0.00002,"dc":"r"},{"i":54,"u":0.00002,"uc":"r","d":-0.00037,"dc":"g"},{"i":55,"u":0.00023,"uc":"g","d":-0.00025,"dc":"r"},{"i":56,"u":0.00047,"uc":"g","d":-0.00018,"dc":"r"},{"i":57,"u":0.00053,"uc":"g","d":-0.00049,"dc":"g"},{"i":58,"u":0.00029,"uc":"r","d":-0.00055,"dc":"g"},{"i":59,"u":0.00002,"uc":"r","d":-0.00062,"dc":"g"},
      {"i":60,"u":0.00023,"uc":"g","d":-0.00061,"dc":"g"},{"i":61,"u":0.00029,"uc":"g","d":-0.00061,"dc":"r"},{"i":62,"u":0.00035,"uc":"g","d":-0.00061,"dc":"r"},{"i":63,"u":0.00041,"uc":"g","d":-0.00055,"dc":"r"},{"i":64,"u":0.00041,"uc":"g","d":-0.00037,"dc":"r"},{"i":65,"u":0.00040,"uc":"r","d":-0.00031,"dc":"g"},{"i":66,"u":0.00035,"uc":"r","d":-0.00043,"dc":"g"},{"i":67,"u":0.00029,"uc":"r","d":-0.00043,"dc":"g"},{"i":68,"u":0.00035,"uc":"g","d":-0.00062,"dc":"g"},{"i":69,"u":0.00041,"uc":"g","d":-0.00080,"dc":"g"},
      {"i":70,"u":0.00053,"uc":"g","d":-0.00086,"dc":"g"},{"i":71,"u":0.00072,"uc":"g","d":-0.00074,"dc":"r"},{"i":72,"u":0.00084,"uc":"g","d":-0.00075,"dc":"g"},{"i":73,"u":0.00083,"uc":"r","d":-0.00098,"dc":"g"},{"i":74,"u":0.00078,"uc":"r","d":-0.00129,"dc":"g"},{"i":75,"u":0.00096,"uc":"g","d":-0.00166,"dc":"g"},{"i":76,"u":0.00121,"uc":"g","d":-0.00141,"dc":"r"},{"i":77,"u":0.00158,"uc":"g","d":-0.00092,"dc":"r"},{"i":78,"u":0.00152,"uc":"r","d":-0.00068,"dc":"r"},{"i":79,"u":0.00133,"uc":"r","d":-0.00062,"dc":"g"},
      {"i":80,"u":0.00103,"uc":"r","d":-0.00074,"dc":"g"},{"i":81,"u":0.00096,"uc":"r","d":-0.00086,"dc":"g"},{"i":82,"u":0.00097,"uc":"g","d":-0.00087,"dc":"g"},{"i":83,"u":0.00109,"uc":"g","d":-0.00088,"dc":"g"},{"i":84,"u":0.00115,"uc":"g","d":-0.00074,"dc":"r"},{"i":85,"u":0.00121,"uc":"g","d":-0.00062,"dc":"r"},{"i":86,"u":0.00115,"uc":"r","d":-0.00055,"dc":"r"},{"i":87,"u":0.00109,"uc":"r","d":-0.00068,"dc":"g"},{"i":88,"u":0.00096,"uc":"r","d":-0.00086,"dc":"g"},{"i":89,"u":0.00103,"uc":"g","d":-0.00080,"dc":"r"},
      {"i":90,"u":0.00115,"uc":"g","d":-0.00074,"dc":"r"},{"i":91,"u":0.00121,"uc":"g","d":-0.00062,"dc":"r"},{"i":92,"u":0.00120,"uc":"r","d":-0.00055,"dc":"r"},{"i":93,"u":0.00109,"uc":"r","d":-0.00049,"dc":"g"},{"i":94,"u":0.00103,"uc":"r","d":-0.00031,"dc":"r"},{"i":95,"u":0.00102,"uc":"r","d":-0.00018,"dc":"r"},{"i":96,"u":0.00096,"uc":"r","d":-0.00055,"dc":"g"},{"i":97,"u":0.00078,"uc":"r","d":-0.00141,"dc":"g"},{"i":98,"u":0.00023,"uc":"r","d":-0.00172,"dc":"g"},{"i":99,"u":0.00041,"uc":"g","d":-0.00148,"dc":"r"},
      {"i":100,"u":0.00090,"uc":"g","d":-0.00098,"dc":"r"},{"i":101,"u":0.00096,"uc":"g","d":-0.00080,"dc":"r"},{"i":102,"u":0.00078,"uc":"r","d":-0.00079,"dc":"r"},{"i":103,"u":0.00053,"uc":"r","d":-0.00086,"dc":"g"},{"i":104,"u":0.00052,"uc":"r","d":-0.00074,"dc":"r"},{"i":105,"u":0.00059,"uc":"g","d":-0.00068,"dc":"r"},{"i":106,"u":0.00066,"uc":"g","d":-0.00055,"dc":"r"},{"i":107,"u":0.00067,"uc":"g","d":-0.00056,"dc":"r"},{"i":108,"u":0.00059,"uc":"r","d":-0.00049,"dc":"g"},{"i":109,"u":0.00053,"uc":"r","d":-0.00043,"dc":"r"},
      {"i":110,"u":0.00052,"uc":"r","d":-0.00037,"dc":"r"},{"i":111,"u":0.00051,"uc":"r","d":-0.00043,"dc":"g"},{"i":112,"u":0.00050,"uc":"r","d":-0.00037,"dc":"r"},{"i":113,"u":0.00052,"uc":"g","d":-0.00038,"dc":"g"},{"i":114,"u":0.00047,"uc":"r","d":-0.00025,"dc":"r"},{"i":115,"u":0.00053,"uc":"g","d":-0.00012,"dc":"r"},{"i":116,"u":0.00041,"uc":"r","d":-0.00002,"dc":"r"},{"i":117,"u":0.00040,"uc":"r","d":-0.00002,"dc":"r"},{"i":118,"u":0.00029,"uc":"r","d":-0.00025,"dc":"g"},{"i":119,"u":0.00023,"uc":"r","d":-0.00068,"dc":"g"},
      {"i":120,"u":0.00035,"uc":"g","d":-0.00092,"dc":"g"},{"i":121,"u":0.00066,"uc":"g","d":-0.00080,"dc":"r"},{"i":122,"u":0.00090,"uc":"g","d":-0.00079,"dc":"r"},{"i":123,"u":0.00096,"uc":"g","d":-0.00098,"dc":"g"},{"i":124,"u":0.00095,"uc":"r","d":-0.00129,"dc":"g"},{"i":125,"u":0.00103,"uc":"g","d":-0.00141,"dc":"g"},{"i":126,"u":0.00127,"uc":"g","d":-0.00129,"dc":"r"},{"i":127,"u":0.00146,"uc":"g","d":-0.00117,"dc":"r"},{"i":128,"u":0.00147,"uc":"g","d":-0.00116,"dc":"r"},{"i":129,"u":0.00146,"uc":"r","d":-0.00115,"dc":"r"},
      {"i":130,"u":0.00139,"uc":"r","d":-0.00105,"dc":"r"},{"i":131,"u":0.00146,"uc":"g","d":-0.00092,"dc":"r"},{"i":132,"u":0.00139,"uc":"r","d":-0.00080,"dc":"r"},{"i":133,"u":0.00133,"uc":"r","d":-0.00068,"dc":"r"},{"i":134,"u":0.00121,"uc":"r","d":-0.00055,"dc":"r"},{"i":135,"u":0.00115,"uc":"r","d":-0.00037,"dc":"r"},{"i":136,"u":0.00103,"uc":"r","d":-0.00018,"dc":"r"},{"i":137,"u":0.00090,"uc":"r","d":-0.00002,"dc":"r"},{"i":138,"u":0.00072,"uc":"r"},{"i":139,"u":0.00059,"uc":"r"},
      {"i":140,"u":0.00053,"uc":"r","d":-0.000249,"dc":"g"},{"i":141,"u":0.00052,"uc":"r"},{"i":142,"u":0.000627,"uc":"g"}
    ],
    "sig": [{"i":139,"p":1.09237}]
  },
  "vconcat": [
    {
      "width": 1225,
      "height": 471,
      "layer": [
        {
          "data": {"values": [{"p": 1.09193}]},
          "mark": {"type": "rule", "color": "#ff0000", "strokeWidth": 1},
          "encoding": {
            "y": {"field": "p", "type": "quantitative", "title": null,
              "scale": {"domain": [1.08151, 1.09511], "nice": false, "zero": false},
              "axis": {"orient": "right", "values": [1.08245, 1.08340, 1.08435, 1.08530, 1.08625, 1.08720, 1.08815, 1.08910, 1.09005, 1.09100, 1.09195, 1.09290, 1.09385, 1.09480], "tickCount": 30, "format": ".5f", "grid": true, "labelOverlap": false, "labelBound": false, "title": null}}
          }
        },
        {
          "data": {"name": "cd"},
          "mark": {"type": "rule", "color": "black", "strokeWidth": 1, "clip": true},
          "encoding": {
            "x": {"field": "i", "type": "quantitative", "title": null,
              "scale": {"domain": [0, 153.1], "nice": false, "zero": false},
              "axis": {"orient": "bottom", "values": [0,4,8,12,16,20,24,28,32,36,40,44,48,52,56,60,64,68,72,76,80,84,88,92,96,100,104,108,112,116,120,124,128,132,136,140,144,148,152], "tickCount": 60, "labels": false, "ticks": false, "domain": false, "grid": true,
                "gridOpacity": {"condition": {"test": "datum.value == 0", "value": 0}, "value": 1}, "title": null}},
            "y": {"field": "l", "type": "quantitative", "title": null, "axis": {"orient": "right", "values": [1.08245, 1.08340, 1.08435, 1.08530, 1.08625, 1.08720, 1.08815, 1.08910, 1.09005, 1.09100, 1.09195, 1.09290, 1.09385, 1.09480], "tickCount": 30, "format": ".5f", "grid": true, "labelOverlap": false, "labelBound": false, "title": null}},
            "y2": {"field": "h"}
          }
        },
        {
          "data": {"name": "cd"},
          "mark": {"type": "bar", "size": 4, "stroke": "black", "strokeWidth": 1, "clip": true},
          "encoding": {
            "x": {"field": "i", "type": "quantitative", "title": null},
            "y": {"field": "o", "type": "quantitative", "title": null},
            "y2": {"field": "c"},
            "fill": {"condition": {"test": "datum.c > datum.o", "value": "white"}, "value": "black"}
          }
        },
        {
          "data": {"name": "al"},
          "mark": {"type": "line", "strokeWidth": 2, "clip": true},
          "encoding": {
            "x": {"field": "i", "type": "quantitative", "title": null},
            "y": {"field": "v", "type": "quantitative", "title": null},
            "color": {"field": "s", "type": "nominal", "scale": {"domain": ["jaw", "teeth", "lips", "g", "r"], "range": ["#0b55d8", "#f01010", "#10ee10", "#008000", "#ff0000"]}, "legend": null}
          }
        },
        {
          "data": {"name": "fr"},
          "transform": [{"filter": "datum.d == 'u'"}],
          "mark": {"type": "point", "shape": "M0,-1L0.85,0.9L0,0.4L-0.85,0.9Z", "size": 120, "filled": true, "fill": "#ababab", "stroke": "#8c8c8c", "strokeWidth": 0.7, "opacity": 1, "yOffset": -9, "clip": true},
          "encoding": {
            "x": {"field": "i", "type": "quantitative", "title": null},
            "y": {"field": "p", "type": "quantitative", "title": null}
          }
        },
        {
          "data": {"name": "fr"},
          "transform": [{"filter": "datum.d == 'd'"}],
          "mark": {"type": "point", "shape": "M0,1L0.85,-0.9L0,-0.4L-0.85,-0.9Z", "size": 120, "filled": true, "fill": "#ababab", "stroke": "#8c8c8c", "strokeWidth": 0.7, "opacity": 1, "yOffset": 8, "clip": true},
          "encoding": {
            "x": {"field": "i", "type": "quantitative", "title": null},
            "y": {"field": "p", "type": "quantitative", "title": null}
          }
        },
        {
          "data": {"name": "sig"},
          "mark": {"type": "point", "shape": "M0,-1L0.95,-0.05L0.42,-0.05L0.42,1L-0.42,1L-0.42,-0.05L-0.95,-0.05Z", "size": 360, "filled": false, "fill": "#f6fff2", "stroke": "#5fdc3c", "strokeWidth": 1.5, "opacity": 1},
          "encoding": {
            "x": {"field": "i", "type": "quantitative", "title": null},
            "y": {"field": "p", "type": "quantitative", "title": null}
          }
        },
        {
          "data": {"values": [{"p": 1.09193}]},
          "mark": {"type": "rule", "color": "#e00000", "strokeWidth": 11, "clip": false},
          "encoding": {
            "x": {"value": 1228},
            "x2": {"value": 1267},
            "y": {"field": "p", "type": "quantitative", "title": null}
          }
        },
        {
          "data": {"values": [{"p": 1.09193, "t": "1.09193"}]},
          "mark": {"type": "text", "align": "left", "baseline": "middle", "color": "white", "fontSize": 9, "clip": false},
          "encoding": {
            "x": {"value": 1230},
            "y": {"field": "p", "type": "quantitative", "title": null},
            "text": {"field": "t"}
          }
        }
      ]
    },
    {
      "width": 1225,
      "height": 99,
      "layer": [
        {
          "data": {"name": "ao"},
          "mark": {"type": "bar", "size": 4, "clip": true},
          "encoding": {
            "x": {"field": "i", "type": "quantitative", "title": null,
              "scale": {"domain": [0, 153.1], "nice": false, "zero": false},
              "axis": {"orient": "bottom", "values": [0,4,8,12,16,20,24,28,32,36,40,44,48,52,56,60,64,68,72,76,80,84,88,92,96,100,104,108,112,116,120,124,128,132,136,140,144,148,152], "tickCount": 60, "labels": false, "ticks": false, "domain": false, "grid": true,
                "gridOpacity": {"condition": {"test": "datum.value == 0", "value": 0}, "value": 1}, "title": null}},
            "y": {"field": "v", "type": "quantitative", "title": null,
              "scale": {"domain": [-0.004347, 0.006785], "nice": false, "zero": false},
              "axis": {"orient": "right", "values": [-0.004347, 0, 0.006785], "format": ".6f", "labelFlush": true, "grid": true, "zindex": 1,
                "gridOpacity": {"condition": {"test": "datum.value != 0", "value": 0}, "value": 1}, "title": null}},
            "y2": {"datum": 0},
            "color": {"field": "c", "type": "nominal", "scale": {"domain": ["jaw", "teeth", "lips", "g", "r"], "range": ["#0b55d8", "#f01010", "#10ee10", "#008000", "#ff0000"]}, "legend": null}
          }
        },
        {
          "data": {"values": [{"t": "AOcust 0.000976"}]},
          "mark": {"type": "text", "align": "left", "baseline": "middle", "dx": -2, "dy": 9},
          "encoding": {
            "x": {"datum": 0, "type": "quantitative"},
            "y": {"datum": 0.006785, "type": "quantitative"},
            "text": {"field": "t"}
          }
        }
      ]
    },
    {
      "width": 1225,
      "height": 99,
      "layer": [
        {
          "data": {"name": "ac"},
          "mark": {"type": "bar", "size": 4, "clip": true},
          "encoding": {
            "x": {"field": "i", "type": "quantitative", "title": null,
              "scale": {"domain": [0, 153.1], "nice": false, "zero": false},
              "axis": {"orient": "bottom", "values": [0,4,8,12,16,20,24,28,32,36,40,44,48,52,56,60,64,68,72,76,80,84,88,92,96,100,104,108,112,116,120,124,128,132,136,140,144,148,152], "tickCount": 60, "labels": false, "ticks": false, "domain": false, "grid": true,
                "gridOpacity": {"condition": {"test": "datum.value == 0", "value": 0}, "value": 1}, "title": null}},
            "y": {"field": "v", "type": "quantitative", "title": null,
              "scale": {"domain": [-0.0014016, 0.0023082], "nice": false, "zero": false},
              "axis": {"orient": "right", "values": [-0.0014016, 0, 0.0023082], "format": ".7f", "labelFlush": true, "grid": true, "zindex": 1,
                "gridOpacity": {"condition": {"test": "datum.value != 0", "value": 0}, "value": 1}, "title": null}},
            "y2": {"datum": 0},
            "color": {"field": "c", "type": "nominal", "scale": {"domain": ["jaw", "teeth", "lips", "g", "r"], "range": ["#0b55d8", "#f01010", "#10ee10", "#008000", "#ff0000"]}, "legend": null}
          }
        },
        {
          "data": {"values": [{"t": "ACcust -0.0002121"}]},
          "mark": {"type": "text", "align": "left", "baseline": "middle", "dx": -2, "dy": 9},
          "encoding": {
            "x": {"datum": 0, "type": "quantitative"},
            "y": {"datum": 0.0023082, "type": "quantitative"},
            "text": {"field": "t"}
          }
        }
      ]
    },
    {
      "width": 1225,
      "height": 99,
      "layer": [
        {
          "data": {"name": "gt"},
          "mark": {"type": "bar", "size": 4, "clip": true},
          "encoding": {
            "x": {"field": "i", "type": "quantitative", "title": null,
              "scale": {"domain": [0, 153.1], "nice": false, "zero": false},
              "axis": {"orient": "bottom", "values": [0,4,8,12,16,20,24,28,32,36,40,44,48,52,56,60,64,68,72,76,80,84,88,92,96,100,104,108,112,116,120,124,128,132,136,140,144,148,152], "tickCount": 60, "grid": true, "domain": false, "tickSize": 4,
                "gridOpacity": {"condition": {"test": "datum.value == 0", "value": 0}, "value": 1},
                "tickOpacity": {"condition": {"test": "datum.value % 8 != 0 || datum.value > 136", "value": 0}, "value": 1},
                "labelExpr": "datum.value % 8 == 0 && datum.value <= 136 ? ['10 Mar 2025','10 Mar 23:00','11 Mar 07:00','11 Mar 15:00','11 Mar 23:00','12 Mar 07:00','12 Mar 15:00','12 Mar 23:00','13 Mar 07:00','13 Mar 15:00','13 Mar 23:00','14 Mar 07:00','14 Mar 15:00','17 Mar 00:00','17 Mar 08:00','17 Mar 16:00','18 Mar 00:00','18 Mar 08:00'][datum.value / 8] : ''",
                "labelAlign": "left", "labelOffset": 2, "labelPadding": 1, "labelOverlap": false, "labelFlush": false, "labelBound": false, "title": null}},
            "y": {"field": "u", "type": "quantitative", "title": null,
              "scale": {"domain": [-0.002865, 0.003242], "nice": false, "zero": false},
              "axis": {"orient": "right", "values": [-0.002865, 0, 0.003242], "format": ".6f", "labelFlush": true, "grid": true, "zindex": 1,
                "gridOpacity": {"condition": {"test": "datum.value != 0", "value": 0}, "value": 1}, "title": null}},
            "y2": {"datum": 0},
            "color": {"field": "uc", "type": "nominal", "scale": {"domain": ["jaw", "teeth", "lips", "g", "r"], "range": ["#0b55d8", "#f01010", "#10ee10", "#008000", "#ff0000"]}, "legend": null}
          }
        },
        {
          "data": {"name": "gt"},
          "transform": [{"filter": "isValid(datum.d)"}],
          "mark": {"type": "bar", "size": 4, "clip": true},
          "encoding": {
            "x": {"field": "i", "type": "quantitative", "title": null},
            "y": {"field": "d", "type": "quantitative", "title": null},
            "y2": {"datum": 0},
            "color": {"field": "dc", "type": "nominal", "scale": {"domain": ["jaw", "teeth", "lips", "g", "r"], "range": ["#0b55d8", "#f01010", "#10ee10", "#008000", "#ff0000"]}, "legend": null}
          }
        },
        {
          "data": {"values": [{"t": "GatorCust 0.000627 -0.000249"}]},
          "mark": {"type": "text", "align": "left", "baseline": "middle", "dx": -2, "dy": 9},
          "encoding": {
            "x": {"datum": 0, "type": "quantitative"},
            "y": {"datum": 0.003242, "type": "quantitative"},
            "text": {"field": "t"}
          }
        }
      ]
    }
  ]
}
